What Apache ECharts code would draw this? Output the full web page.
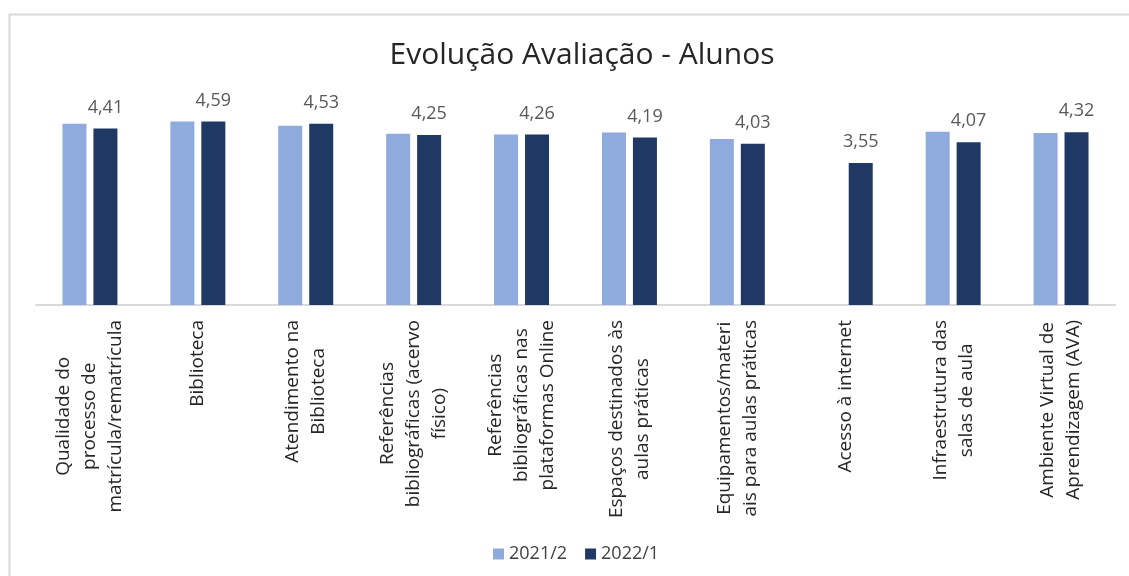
<!DOCTYPE html>
<html>
<head>
<meta charset="utf-8">
<script src="https://cdn.jsdelivr.net/npm/echarts@6/dist/echarts.min.js"></script>
<style>
  html, body { margin: 0; padding: 0; background: #fff; }
  #chart1 { width: 1129px; height: 576px; }
</style>
</head>
<body>
<div id="chart1"></div>
<script>
// categorias (eixo x)
var categorias = [
    "Qualidade do\nprocesso de\nmatrícula/rematrícula",
    "Biblioteca",
    "Atendimento na\nBiblioteca",
    "Referências\nbibliográficas (acervo\nfísico)",
    "Referências\nbibliográficas nas\nplataformas Online",
    "Espaços destinados às\naulas práticas",
    "Equipamentos/materi\nais para aulas práticas",
    "Acesso à internet",
    "Infraestrutura das\nsalas de aula",
    "Ambiente Virtual de\nAprendizagem (AVA)"
];

// valores de cada semestre
var valores2021_2 = [4.53, 4.59, 4.48, 4.28, 4.26, 4.31, 4.15, null, 4.33, 4.30];
var valores2022_1 = [4.41, 4.59, 4.53, 4.25, 4.26, 4.19, 4.03, 3.55, 4.07, 4.32];

var chart1 = echarts.init(document.getElementById("chart1"));

var fonte = "'Open Sans', 'Noto Sans', sans-serif";

var option = {
    animation: false,
    backgroundColor: "#fff",
    graphic: [
        {
            type: "rect",
            shape: { x: 9.5, y: 14.5, width: 1200, height: 700 },
            style: { fill: "none", stroke: "#d9d9d9", lineWidth: 2 },
            silent: true
        }
    ],
    title: {
        text: "Evolução Avaliação - Alunos",
        left: 577,
        textAlign: "center",
        top: 35,
        textStyle: {
            fontFamily: fonte,
            fontSize: 30,
            fontWeight: "normal",
            color: "#262626"
        }
    },
    legend: {
        left: 488,
        top: 540,
        itemWidth: 11,
        itemHeight: 11,
        itemGap: 18,
        icon: "rect",
        textStyle: { fontFamily: fonte, fontSize: 18, color: "#404040" },
        data: ["2021/2", "2022/1"]
    },
    grid: {
        left: 36,
        right: 14,
        top: 105,
        bottom: 271
    },
    xAxis: {
        type: "category",
        data: categorias,
        axisLine: { lineStyle: { color: "#d9d9d9", width: 2 } },
        axisTick: { show: false },
        axisLabel: {
            interval: 0,
            rotate: 90,
            margin: 15,
            fontFamily: fonte,
            fontSize: 19,
            lineHeight: 26,
            color: "#262626",
            formatter: function (v) {
                return v.split("\n").map(function (s) { return "{c|" + s + "}"; }).join("\n");
            },
            rich: {
                c: { align: "center", fontFamily: fonte, fontSize: 19, lineHeight: 26, color: "#262626" }
            }
        }
    },
    yAxis: {
        type: "value",
        min: 0,
        max: 5,
        show: false,
        splitLine: { show: false }
    },
    series: [
        {
            name: "2021/2",
            type: "bar",
            barWidth: 24,
            barGap: "29%",
            itemStyle: { color: "#8faadc" },
            data: valores2021_2
        },
        {
            name: "2022/1",
            type: "bar",
            barWidth: 24,
            barGap: "29%",
            itemStyle: { color: "#203864" },
            label: {
                show: true,
                position: "top",
                distance: 12,
                fontFamily: fonte,
                fontSize: 18,
                color: "#595959",
                formatter: function (p) { return p.value.toFixed(2).replace(".", ","); }
            },
            data: valores2022_1
        }
    ]
};

chart1.setOption(option);
</script>
</body>
</html>
